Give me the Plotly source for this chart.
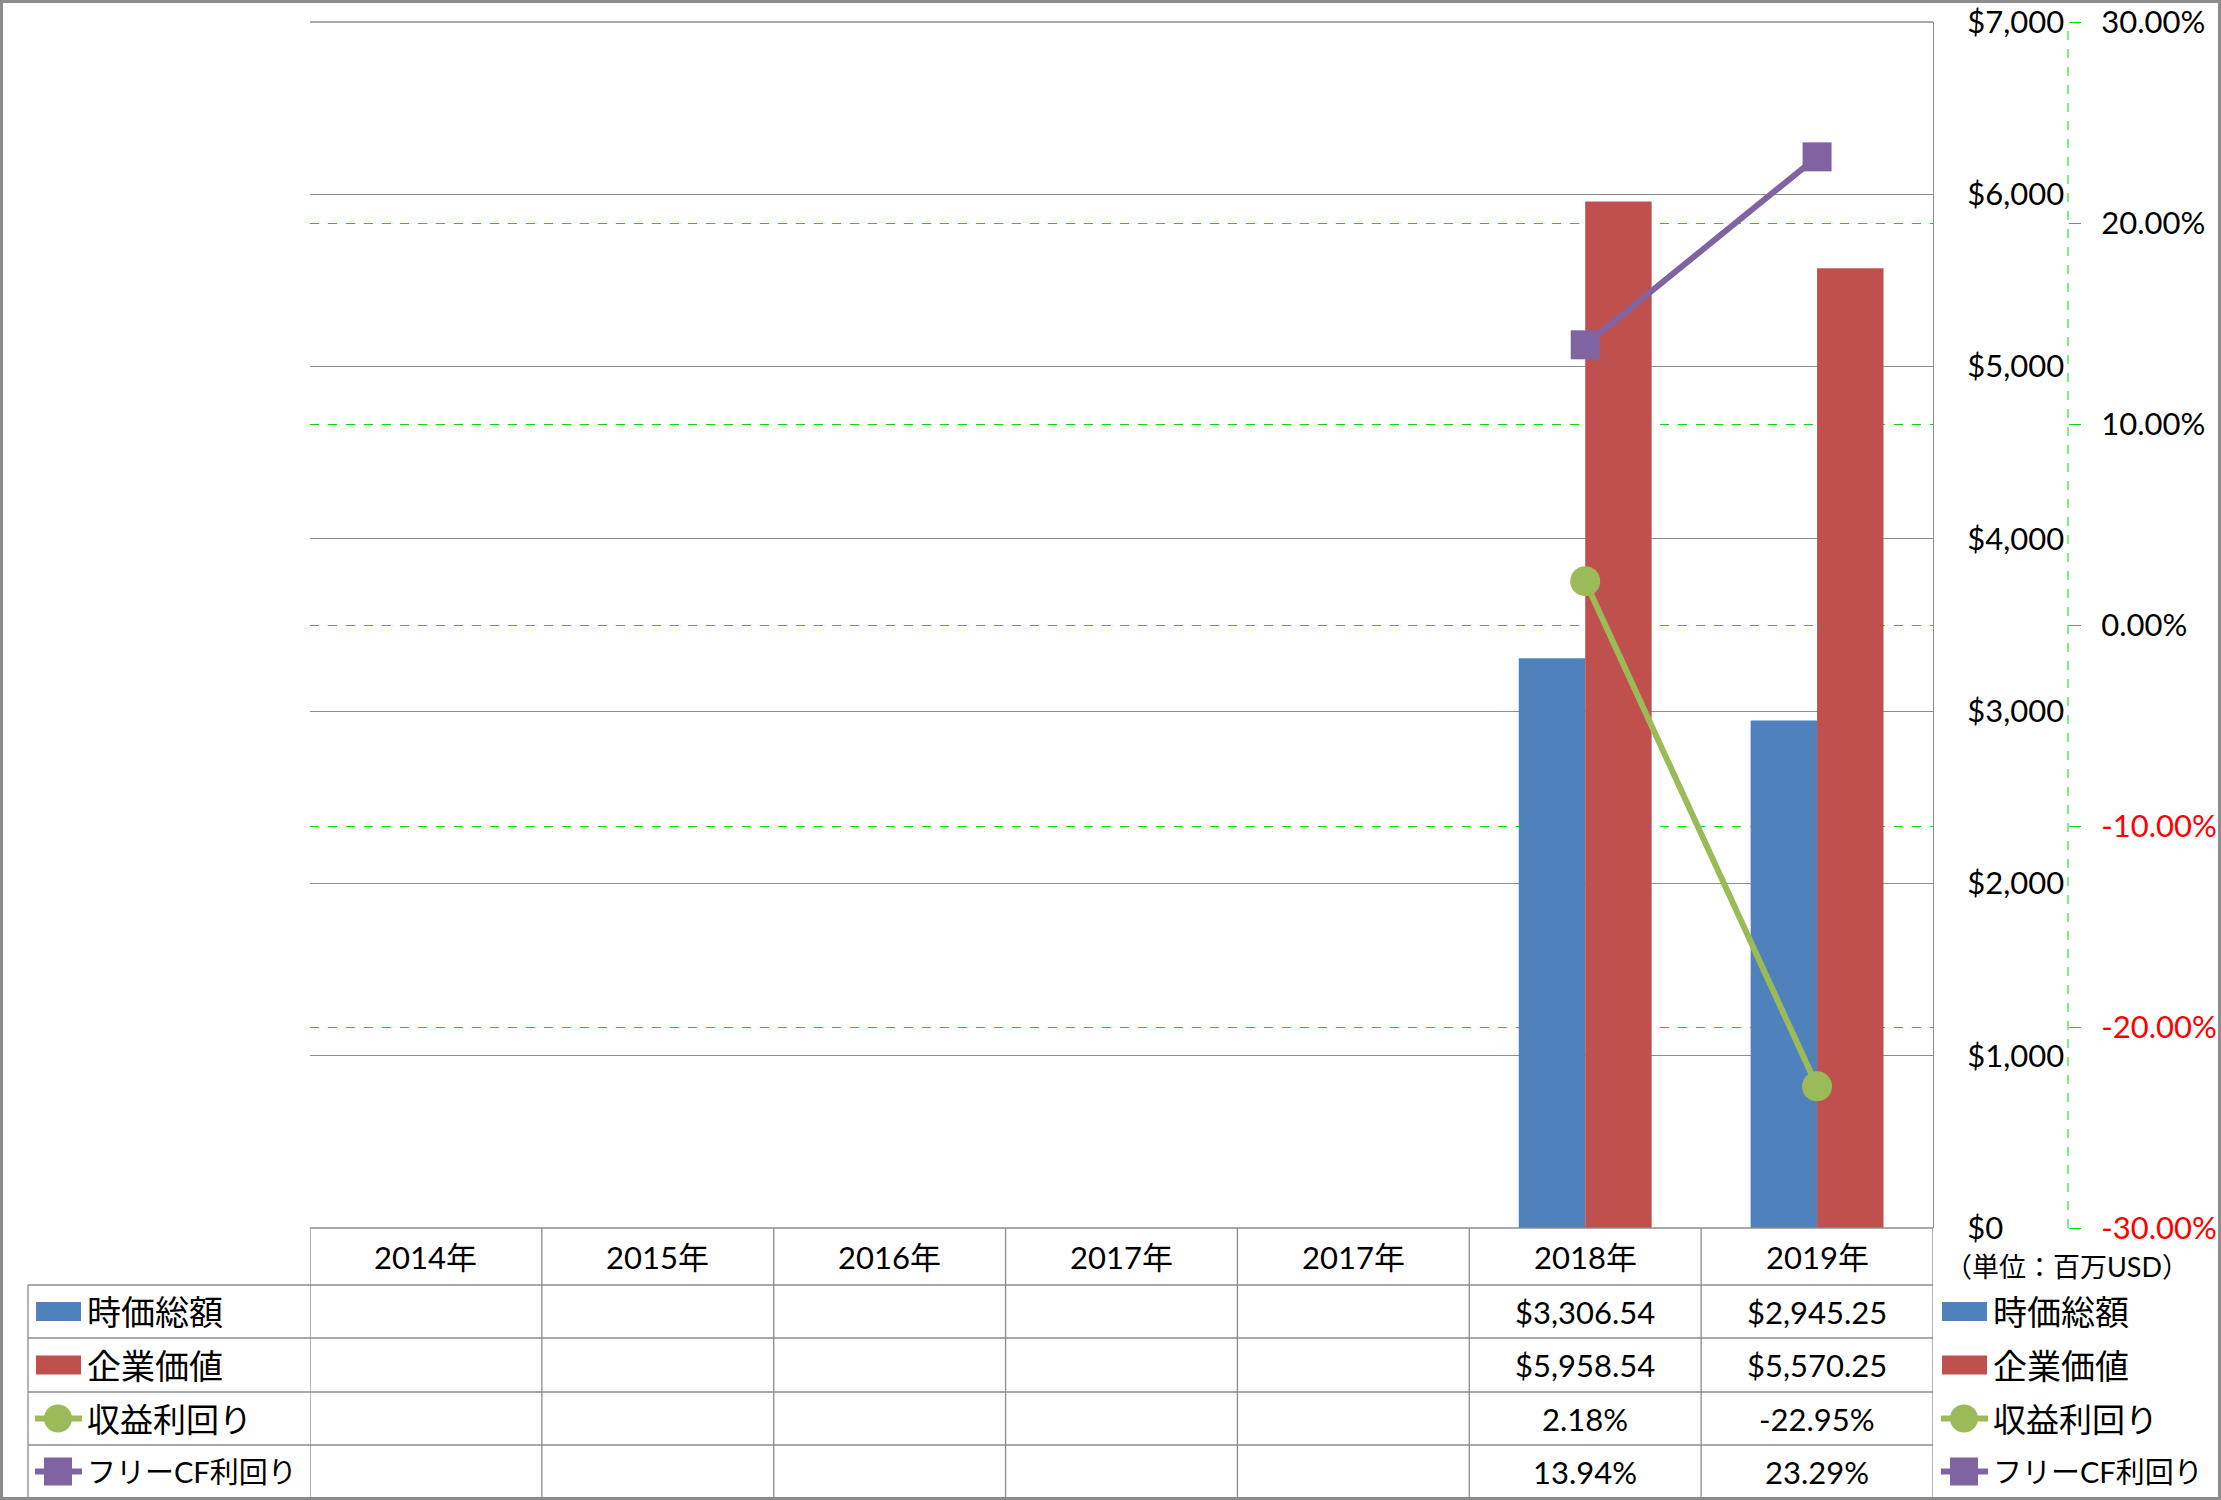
import plotly.graph_objects as go

# ---------------- data ----------------
years = ["2014年", "2015年", "2016年", "2017年", "2017年", "2018年", "2019年"]
market_cap = [None, None, None, None, None, 3306.54, 2945.25]        # 時価総額 (百万USD)
enterprise_value = [None, None, None, None, None, 5958.54, 5570.25]  # 企業価値 (百万USD)
earnings_yield = [None, None, None, None, None, 2.18, -22.95]        # 収益利回り (%)
fcf_yield = [None, None, None, None, None, 13.94, 23.29]             # フリーCF利回り (%)
series_names = ["時価総額", "企業価値", "収益利回り", "フリーCF利回り"]
usd_ticks = [0, 1000, 2000, 3000, 4000, 5000, 6000, 7000]
pct_ticks = [-30, -20, -10, 0, 10, 20, 30]
unit_label = "（単位：百万USD）"

# ---------------- styling ----------------
W, H = 2221, 1500
FONT = "Lato, 'Noto Sans CJK JP', sans-serif"
BLUE, RED, GREEN, PURPLE = "#4F81BD", "#C0504D", "#9BBB59", "#8064A2"
GRAY = "#8C8C8C"
LIME = "#00E000"


def px(x):
    return x / W


def py(y):
    return 1 - y / H


PLOT_L, PLOT_R, PLOT_T, PLOT_B = 310, 1933, 22, 1228
ROW_EDGES = [1228, 1285, 1338, 1392, 1445, 1498]
ROW_CENTERS = [(ROW_EDGES[i] + ROW_EDGES[i + 1]) / 2 for i in range(len(ROW_EDGES) - 1)]
LEG_L = 28
Y2_X = 2068

xs = list(range(len(years)))

fig = go.Figure()
fig.add_trace(go.Bar(x=xs, y=market_cap, name=series_names[0], marker=dict(color=BLUE, line=dict(width=0))))
fig.add_trace(go.Bar(x=xs, y=enterprise_value, name=series_names[1], marker=dict(color=RED, line=dict(width=0))))
fig.add_trace(go.Scatter(x=xs, y=earnings_yield, name=series_names[2], yaxis="y2", mode="lines+markers",
                         line=dict(color=GREEN, width=6),
                         marker=dict(symbol="circle", size=30, color=GREEN)))
fig.add_trace(go.Scatter(x=xs, y=fcf_yield, name=series_names[3], yaxis="y2", mode="lines+markers",
                         line=dict(color=PURPLE, width=6),
                         marker=dict(symbol="square", size=29, color=PURPLE)))


def pct_text(v):
    s = f"{v:.2f}%"
    if v < 0:
        return f'<span style="color:#FF0000">{s}</span>'
    return s


shapes = []
annotations = []

# top edge gridlines of the plot area (plotly omits gridlines on the range edge)
shapes.append(dict(type="line", xref="paper", yref="paper", x0=px(PLOT_L), x1=px(PLOT_R), y0=py(PLOT_T),
                   y1=py(PLOT_T), line=dict(color=GRAY, width=1.3)))

# table grid
for i, y in enumerate(ROW_EDGES):
    x0 = PLOT_L if i == 0 else LEG_L
    shapes.append(dict(type="line", xref="paper", yref="paper", x0=px(x0), x1=px(PLOT_R), y0=py(y), y1=py(y),
                       line=dict(color=GRAY, width=1.3)))
for i in range(len(years) + 1):
    shapes.append(dict(type="line", xref="x", yref="paper", x0=i - 0.5, x1=i - 0.5,
                       y0=py(ROW_EDGES[0]), y1=py(ROW_EDGES[-1]), line=dict(color=GRAY, width=1.3)))
shapes.append(dict(type="line", xref="paper", yref="paper", x0=px(LEG_L), x1=px(LEG_L),
                   y0=py(ROW_EDGES[1]), y1=py(ROW_EDGES[-1]), line=dict(color=GRAY, width=1.3)))

# secondary axis dashed line
shapes.append(dict(type="line", xref="paper", yref="paper", x0=px(Y2_X), x1=px(Y2_X),
                   y0=py(PLOT_B), y1=py(PLOT_T), line=dict(color=LIME, width=1, dash="dash")))

# outer frame
shapes.append(dict(type="rect", xref="paper", yref="paper", x0=px(1.5), x1=px(W - 1.5), y0=py(H - 1.5), y1=py(1.5),
                   line=dict(color=GRAY, width=3), fillcolor="rgba(0,0,0,0)"))

# header row
for i, yr in enumerate(years):
    annotations.append(dict(x=i, y=py(ROW_CENTERS[0]), xref="x", yref="paper", text=yr, showarrow=False,
                            xanchor="center", yanchor="middle", font=dict(family=FONT, size=31, color="black")))

# data rows
table_rows = [
    [("" if v is None else f"${v:,.2f}") for v in market_cap],
    [("" if v is None else f"${v:,.2f}") for v in enterprise_value],
    [("" if v is None else f"{v:.2f}%") for v in earnings_yield],
    [("" if v is None else f"{v:.2f}%") for v in fcf_yield],
]
for r, row in enumerate(table_rows):
    for i, txt in enumerate(row):
        if txt:
            annotations.append(dict(x=i, y=py(ROW_CENTERS[r + 1]), xref="x", yref="paper", text=txt,
                                    showarrow=False, xanchor="center", yanchor="middle",
                                    font=dict(family=FONT, size=31, color="black")))

# legend keys (left column in table and right side)
kinds = [("bar", BLUE), ("bar", RED), ("circle", GREEN), ("square", PURPLE)]
label_sizes = [34, 34, 33, 29]


def add_key(x0, cy, kind, color, label, size):
    if kind == "bar":
        shapes.append(dict(type="rect", xref="paper", yref="paper", x0=px(x0 + 2), x1=px(x0 + 47),
                           y0=py(cy + 9.5), y1=py(cy - 9.5), line=dict(width=0), fillcolor=color))
    else:
        shapes.append(dict(type="line", xref="paper", yref="paper", x0=px(x0 + 1), x1=px(x0 + 48),
                           y0=py(cy), y1=py(cy), line=dict(color=color, width=6)))
        cx = x0 + 24
        r = 14
        shapes.append(dict(type="circle" if kind == "circle" else "rect", xref="paper", yref="paper",
                           x0=px(cx - r), x1=px(cx + r), y0=py(cy + r), y1=py(cy - r),
                           line=dict(width=0), fillcolor=color))
    annotations.append(dict(x=px(x0 + 51), y=py(cy), xref="paper", yref="paper", text=label, showarrow=False,
                            xanchor="left", yanchor="middle", font=dict(family=FONT, size=size, color="black")))


for k, ((kind, color), name) in enumerate(zip(kinds, series_names)):
    add_key(34, ROW_CENTERS[k + 1], kind, color, name, label_sizes[k])
    add_key(1940, ROW_CENTERS[k + 1], kind, color, name, label_sizes[k])

annotations.append(dict(x=px(2067), y=py(1266), xref="paper", yref="paper", text=unit_label, showarrow=False,
                        xanchor="center", yanchor="middle", font=dict(family=FONT, size=27, color="black")))

fig.update_layout(
    width=W, height=H, margin=dict(l=0, r=0, t=0, b=0),
    paper_bgcolor="white", plot_bgcolor="white",
    showlegend=False, barmode="group", bargap=0.427, bargroupgap=0,
    font=dict(family=FONT, size=31, color="black"),
    xaxis=dict(domain=[px(PLOT_L), px(PLOT_R)], range=[-0.5, len(years) - 0.5], showticklabels=False,
               showgrid=False, zeroline=False, showline=False, ticks="", automargin=False),
    yaxis=dict(domain=[py(PLOT_B), py(PLOT_T)], range=[usd_ticks[0], usd_ticks[-1]], side="right",
               tickvals=usd_ticks, ticktext=[f"${v:,}" for v in usd_ticks], showgrid=True, gridcolor=GRAY,
               gridwidth=1.3, zeroline=False, showline=True, linecolor=GRAY, linewidth=1.3, ticks="",
               ticklabelstandoff=27, automargin=False, tickfont=dict(family=FONT, size=31, color="black")),
    yaxis2=dict(overlaying="y", side="right", anchor="free", position=px(Y2_X),
                range=[pct_ticks[0], pct_ticks[-1]], tickvals=pct_ticks,
                ticktext=[pct_text(v) for v in pct_ticks], showgrid=True, gridcolor=LIME, griddash="dash",
                gridwidth=1, zeroline=False, showline=False, ticks="outside", ticklen=12, tickcolor=LIME,
                tickwidth=1, ticklabelstandoff=14, automargin=False,
                tickfont=dict(family=FONT, size=31, color="black")),
    shapes=shapes, annotations=annotations,
)

fig.write_html("out.html")
